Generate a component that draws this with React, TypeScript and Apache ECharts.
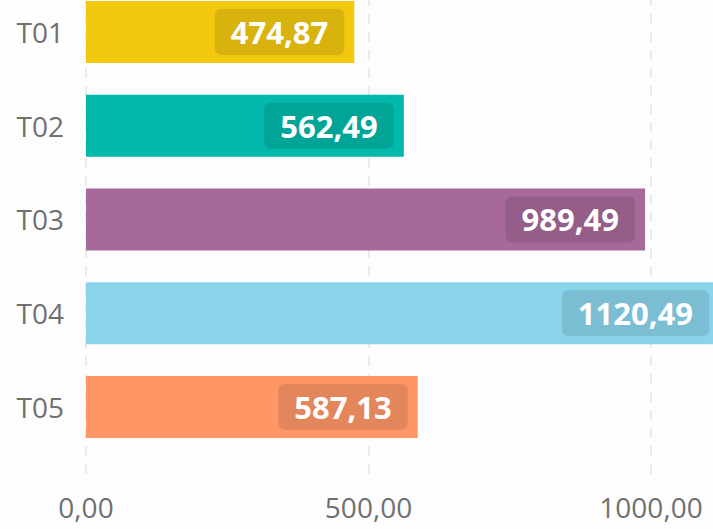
import React, { useEffect, useRef } from "react";
import * as echarts from "echarts";

const categories = ["T01", "T02", "T03", "T04", "T05"];
const values = [474.87, 562.49, 989.49, 1120.49, 587.13];
const colors = ["#F2C80F", "#01B8AA", "#A66999", "#8AD4EB", "#FE9666"];
const axisMin = 0;
const axisMax = 1500;
const axisInterval = 500;

const fmt = (v: number) => v.toFixed(2).replace(".", ",");
const FONT = "'Open Sans', 'Noto Sans', sans-serif";

export default function App() {
  const ref = useRef<HTMLDivElement>(null);
  useEffect(() => {
    if (!ref.current) return;
    const chart = echarts.init(ref.current, undefined, { renderer: "svg" });
    chart.setOption({
      animation: false,
      backgroundColor: "#fdfdfd",
      textStyle: { fontFamily: FONT },
      grid: [
        { left: 86, right: 66.5, top: 25, height: 468.75, containLabel: false, outerBoundsMode: "none" },
        { left: 86, right: 66.5, top: 0, bottom: 79, containLabel: false, outerBoundsMode: "none" },
      ],
      xAxis: [
        { type: "value", gridIndex: 0, min: axisMin, max: axisMax, interval: axisInterval, show: false },
        {
          type: "value",
          gridIndex: 1,
          min: axisMin,
          max: axisMax,
          interval: axisInterval,
          axisLine: { show: false },
          axisTick: { show: false },
          axisLabel: {
            formatter: (v: number) => fmt(v),
            color: "#707070",
            fontSize: 28,
            fontFamily: FONT,
            margin: 12,
            showMaxLabel: false,
          },
          splitLine: { show: true, lineStyle: { color: "#e3e3e3", width: 1.5, type: [10, 8] } },
        },
      ],
      yAxis: [
        {
          type: "category",
          gridIndex: 0,
          data: categories,
          inverse: true,
          axisLine: { show: false },
          axisTick: { show: false },
          axisLabel: { color: "#707070", fontSize: 28, fontFamily: FONT, margin: 22 },
          splitLine: { show: false },
        },
        { type: "value", gridIndex: 1, show: false },
      ],
      series: [
        {
          type: "bar",
          xAxisIndex: 0,
          yAxisIndex: 0,
          barWidth: 62,
          data: values.map((v, i) => ({ value: v, itemStyle: { color: colors[i] } })),
          label: {
            show: true,
            position: "insideRight",
            distance: 10,
            formatter: (p: any) => fmt(p.value),
            color: "#ffffff",
            fontSize: 31,
            fontWeight: "bold",
            fontFamily: FONT,
            lineHeight: 32,
            backgroundColor: "rgba(0,0,0,0.1)",
            padding: [7, 16],
            borderRadius: 6,
          },
        },
      ],
    });
    return () => chart.dispose();
  }, []);
  return (
    <div style={{ position: "fixed", left: 0, top: 0, width: 713, height: 529, overflow: "hidden", background: "#fdfdfd" }}>
      <div ref={ref} style={{ position: "absolute", left: 0, top: -40, width: 1000, height: 600 }} />
    </div>
  );
}
